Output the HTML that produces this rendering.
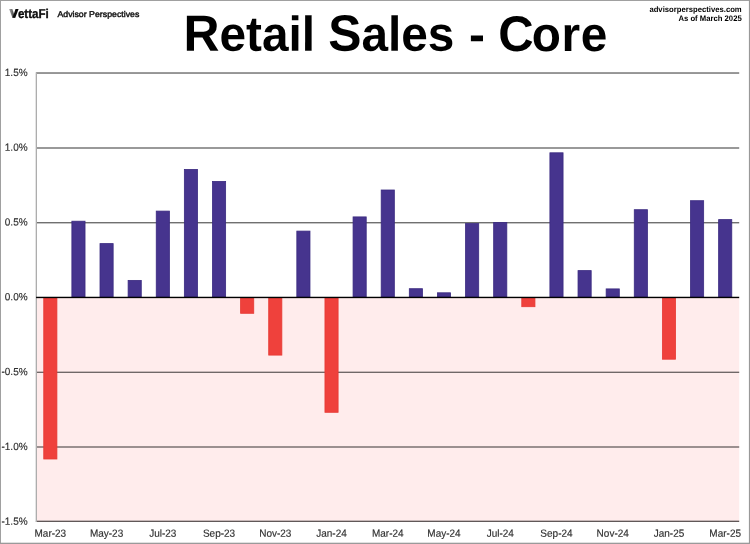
<!DOCTYPE html>
<html><head><meta charset="utf-8"><title>Retail Sales - Core</title>
<style>
html,body{margin:0;padding:0;background:#fff;}
body{width:750px;height:544px;overflow:hidden;position:relative;}
svg{display:block;position:absolute;left:0;top:0;font-family:"Liberation Sans",sans-serif;will-change:transform;-webkit-font-smoothing:antialiased;text-rendering:geometricPrecision;}
</style></head><body>
<svg width="750" height="544" viewBox="0 0 750 544">
<rect x="0" y="0" width="750" height="544" fill="#ffffff"/>
<rect x="36.80" y="297.45" width="702.40" height="224.05" fill="#FFECEC"/>
<rect x="36.0" y="72.30" width="703.20" height="1.44" fill="rgba(0,0,0,0.56)"/>
<rect x="36.0" y="147.29" width="703.20" height="1.42" fill="rgba(0,0,0,0.56)"/>
<rect x="36.0" y="222.00" width="703.20" height="1.41" fill="rgba(0,0,0,0.56)"/>
<rect x="36.0" y="371.62" width="703.20" height="1.38" fill="rgba(0,0,0,0.56)"/>
<rect x="36.0" y="446.30" width="703.20" height="1.40" fill="rgba(0,0,0,0.56)"/>
<rect x="35.90" y="520.65" width="703.30" height="1.35" fill="#605858"/>
<rect x="35.67" y="72.30" width="1.33" height="449.70" fill="#adadad"/>
<rect x="43.76" y="297.85" width="13.15" height="161.15" fill="#EF413C" stroke="#e63a34" stroke-width="0.8"/>
<rect x="71.88" y="221.20" width="13.15" height="75.85" fill="#46348E" stroke="#3a2a80" stroke-width="0.8"/>
<rect x="100.00" y="243.60" width="13.15" height="53.45" fill="#46348E" stroke="#3a2a80" stroke-width="0.8"/>
<rect x="128.12" y="280.40" width="13.15" height="16.65" fill="#46348E" stroke="#3a2a80" stroke-width="0.8"/>
<rect x="156.24" y="211.10" width="13.15" height="85.95" fill="#46348E" stroke="#3a2a80" stroke-width="0.8"/>
<rect x="184.36" y="169.40" width="13.15" height="127.65" fill="#46348E" stroke="#3a2a80" stroke-width="0.8"/>
<rect x="212.48" y="181.40" width="13.15" height="115.65" fill="#46348E" stroke="#3a2a80" stroke-width="0.8"/>
<rect x="240.60" y="297.85" width="13.15" height="15.45" fill="#EF413C" stroke="#e63a34" stroke-width="0.8"/>
<rect x="268.71" y="297.85" width="13.15" height="57.25" fill="#EF413C" stroke="#e63a34" stroke-width="0.8"/>
<rect x="296.83" y="231.10" width="13.15" height="65.95" fill="#46348E" stroke="#3a2a80" stroke-width="0.8"/>
<rect x="324.95" y="297.85" width="13.15" height="114.45" fill="#EF413C" stroke="#e63a34" stroke-width="0.8"/>
<rect x="353.07" y="216.90" width="13.15" height="80.15" fill="#46348E" stroke="#3a2a80" stroke-width="0.8"/>
<rect x="381.19" y="190.00" width="13.15" height="107.05" fill="#46348E" stroke="#3a2a80" stroke-width="0.8"/>
<rect x="409.31" y="288.70" width="13.15" height="8.35" fill="#46348E" stroke="#3a2a80" stroke-width="0.8"/>
<rect x="437.43" y="292.80" width="13.15" height="4.25" fill="#46348E" stroke="#3a2a80" stroke-width="0.8"/>
<rect x="465.55" y="223.60" width="13.15" height="73.45" fill="#46348E" stroke="#3a2a80" stroke-width="0.8"/>
<rect x="493.67" y="222.50" width="13.15" height="74.55" fill="#46348E" stroke="#3a2a80" stroke-width="0.8"/>
<rect x="521.79" y="297.85" width="13.15" height="8.85" fill="#EF413C" stroke="#e63a34" stroke-width="0.8"/>
<rect x="549.91" y="152.80" width="13.15" height="144.25" fill="#46348E" stroke="#3a2a80" stroke-width="0.8"/>
<rect x="578.03" y="270.60" width="13.15" height="26.45" fill="#46348E" stroke="#3a2a80" stroke-width="0.8"/>
<rect x="606.15" y="288.90" width="13.15" height="8.15" fill="#46348E" stroke="#3a2a80" stroke-width="0.8"/>
<rect x="634.27" y="209.70" width="13.15" height="87.35" fill="#46348E" stroke="#3a2a80" stroke-width="0.8"/>
<rect x="662.39" y="297.85" width="13.15" height="61.35" fill="#EF413C" stroke="#e63a34" stroke-width="0.8"/>
<rect x="690.51" y="200.70" width="13.15" height="96.35" fill="#46348E" stroke="#3a2a80" stroke-width="0.8"/>
<rect x="718.63" y="219.60" width="13.15" height="77.45" fill="#46348E" stroke="#3a2a80" stroke-width="0.8"/>
<rect x="36.1" y="296.75" width="703.10" height="1.40" fill="#000"/>
<text transform="translate(27.6,76.10) rotate(0.05) scale(1,1.04)" font-size="10" text-anchor="end" fill="#303030" stroke="#303030" stroke-width="0.15">1.5%</text>
<text transform="translate(27.6,150.86) rotate(0.05) scale(1,1.04)" font-size="10" text-anchor="end" fill="#303030" stroke="#303030" stroke-width="0.15">1.0%</text>
<text transform="translate(27.6,225.62) rotate(0.05) scale(1,1.04)" font-size="10" text-anchor="end" fill="#303030" stroke="#303030" stroke-width="0.15">0.5%</text>
<text transform="translate(27.6,300.38) rotate(0.05) scale(1,1.04)" font-size="10" text-anchor="end" fill="#303030" stroke="#303030" stroke-width="0.15">0.0%</text>
<text transform="translate(27.6,375.14) rotate(0.05) scale(1,1.04)" font-size="10" text-anchor="end" fill="#303030" stroke="#303030" stroke-width="0.15">-0.5%</text>
<text transform="translate(27.6,449.90) rotate(0.05) scale(1,1.04)" font-size="10" text-anchor="end" fill="#303030" stroke="#303030" stroke-width="0.15">-1.0%</text>
<text transform="translate(27.6,524.66) rotate(0.05) scale(1,1.04)" font-size="10" text-anchor="end" fill="#303030" stroke="#303030" stroke-width="0.15">-1.5%</text>
<text transform="translate(50.33,536.8) rotate(0.05) scale(1,1.04)" font-size="10" text-anchor="middle" fill="#303030" stroke="#303030" stroke-width="0.15">Mar-23</text>
<text transform="translate(106.57,536.8) rotate(0.05) scale(1,1.04)" font-size="10" text-anchor="middle" fill="#303030" stroke="#303030" stroke-width="0.15">May-23</text>
<text transform="translate(162.81,536.8) rotate(0.05) scale(1,1.04)" font-size="10" text-anchor="middle" fill="#303030" stroke="#303030" stroke-width="0.15">Jul-23</text>
<text transform="translate(219.05,536.8) rotate(0.05) scale(1,1.04)" font-size="10" text-anchor="middle" fill="#303030" stroke="#303030" stroke-width="0.15">Sep-23</text>
<text transform="translate(275.29,536.8) rotate(0.05) scale(1,1.04)" font-size="10" text-anchor="middle" fill="#303030" stroke="#303030" stroke-width="0.15">Nov-23</text>
<text transform="translate(331.53,536.8) rotate(0.05) scale(1,1.04)" font-size="10" text-anchor="middle" fill="#303030" stroke="#303030" stroke-width="0.15">Jan-24</text>
<text transform="translate(387.77,536.8) rotate(0.05) scale(1,1.04)" font-size="10" text-anchor="middle" fill="#303030" stroke="#303030" stroke-width="0.15">Mar-24</text>
<text transform="translate(444.01,536.8) rotate(0.05) scale(1,1.04)" font-size="10" text-anchor="middle" fill="#303030" stroke="#303030" stroke-width="0.15">May-24</text>
<text transform="translate(500.25,536.8) rotate(0.05) scale(1,1.04)" font-size="10" text-anchor="middle" fill="#303030" stroke="#303030" stroke-width="0.15">Jul-24</text>
<text transform="translate(556.49,536.8) rotate(0.05) scale(1,1.04)" font-size="10" text-anchor="middle" fill="#303030" stroke="#303030" stroke-width="0.15">Sep-24</text>
<text transform="translate(612.73,536.8) rotate(0.05) scale(1,1.04)" font-size="10" text-anchor="middle" fill="#303030" stroke="#303030" stroke-width="0.15">Nov-24</text>
<text transform="translate(668.97,536.8) rotate(0.05) scale(1,1.04)" font-size="10" text-anchor="middle" fill="#303030" stroke="#303030" stroke-width="0.15">Jan-25</text>
<text transform="translate(725.21,536.8) rotate(0.05) scale(1,1.04)" font-size="10" text-anchor="middle" fill="#303030" stroke="#303030" stroke-width="0.15">Mar-25</text>
<text transform="translate(183.6,50.7) rotate(0.04) scale(1,1.025)" font-size="47.7" font-weight="bold" fill="#000" style="white-space:pre"><tspan font-size="49.8">R</tspan>etail <tspan font-size="49.8">S</tspan>ales <tspan dx="1.5">-</tspan> <tspan font-size="49.0">C</tspan><tspan dx="-1.8" letter-spacing="0.7">ore</tspan></text>
<text transform="translate(741.7,12.3) scale(1,1.04)" font-size="7.7" font-weight="bold" text-anchor="end" fill="#000">advisorperspectives.com</text>
<text transform="translate(741.7,21.05) scale(1,1.04)" font-size="7.7" font-weight="bold" text-anchor="end" fill="#000">As of March 2025</text>
<defs><linearGradient id="vg" x1="0" x2="1" y1="0" y2="0"><stop offset="0" stop-color="#a8a8a8"/><stop offset="1" stop-color="#2a2a2a"/></linearGradient></defs>
<path d="M9.1 9.1 L12.3 9.1 L15.2 17.7 L12.4 17.7 Z" fill="url(#vg)"/>
<path d="M12.4 17.7 L15.3 17.7 L18.6 9.1 L15.5 9.1 L13.7 14.4 Z" fill="#0c0c0c"/>
<text transform="translate(17.9,17.7) scale(0.925,1.03)" font-size="12.5" font-weight="bold" fill="#0c0c0c" stroke="#0c0c0c" stroke-width="0.35">ettaFi</text>
<text transform="translate(57.4,17.45) scale(1.058,1)" font-size="8.3" fill="#111" stroke="#111" stroke-width="0.4">Advisor Perspectives</text>
<rect x="0" y="0" width="750" height="1" fill="#a0a0a0"/>
<rect x="0" y="0" width="1" height="544" fill="#a0a0a0"/>
<rect x="748.9" y="0" width="1.1" height="544" fill="#999999"/>
<rect x="0" y="542.7" width="750" height="1.3" fill="#9a9a9a"/>
</svg>
</body></html>
